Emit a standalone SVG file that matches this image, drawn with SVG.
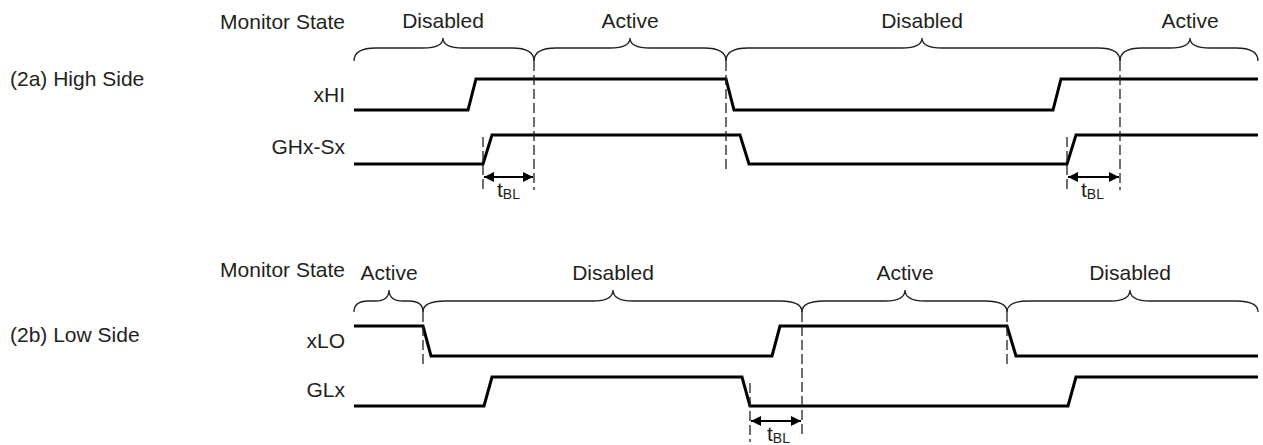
<svg xmlns="http://www.w3.org/2000/svg" width="1263" height="445" viewBox="0 0 1263 445">
<style>
text{font-family:"Liberation Sans",Arial,sans-serif;font-size:21px;fill:#231f20}
.end{text-anchor:end}
.mid{text-anchor:middle}
.sub{font-size:14px}
.wave{fill:none;stroke:#000;stroke-width:3;stroke-linejoin:miter}
.brace{fill:none;stroke:#231f20;stroke-width:1.3}
.dash{fill:none;stroke:#231f20;stroke-width:1.3;stroke-dasharray:10,4}
.dim{fill:none;stroke:#000;stroke-width:2.2}
</style>
<defs>
<marker id="ah" markerUnits="userSpaceOnUse" markerWidth="11" markerHeight="10" refX="10" refY="5" orient="auto-start-reverse">
<path d="M0,0 L10,5 L0,10 Z" fill="#000"/>
</marker>
</defs>
<rect width="1263" height="445" fill="#fff"/>

<g id="labels-high">
<text x="10" y="86">(2a) High Side</text>
<text class="end" x="345" y="29">Monitor State</text>
<text class="end" x="345" y="102">xHI</text>
<text class="end" x="345" y="154">GHx-Sx</text>
</g>
<g id="labels-low">
<text x="10" y="342">(2b) Low Side</text>
<text class="end" x="345" y="277">Monitor State</text>
<text class="end" x="345" y="348">xLO</text>
<text class="end" x="345" y="397">GLx</text>
</g>

<g id="states-high">
<path class="brace" d="M354,61 C354,53 360,48 376,48 L423,48 C435,48 443,45 443,38 C443,45 451,48 463,48 L512,48 C528,48 534,53 534,61"/>
<text class="mid" x="443" y="28">Disabled</text>
<path class="brace" d="M534,61 C534,53 540,48 556,48 L610,48 C622,48 630,45 630,38 C630,45 638,48 650,48 L704,48 C720,48 726,53 726,61"/>
<text class="mid" x="630" y="28">Active</text>
<path class="brace" d="M726,61 C726,53 732,48 748,48 L902,48 C914,48 922,45 922,38 C922,45 930,48 942,48 L1098,48 C1114,48 1120,53 1120,61"/>
<text class="mid" x="922" y="28">Disabled</text>
<path class="brace" d="M1120,61 C1120,53 1126,48 1142,48 L1170,48 C1182,48 1190,45 1190,38 C1190,45 1198,48 1210,48 L1236,48 C1252,48 1258,53 1258,61"/>
<text class="mid" x="1190" y="28">Active</text>
</g>

<g id="states-low">
<path class="brace" d="M354,312 C354,305 358,301 368,301 L375,301 C384,301 389,298 389,290 C389,298 394,301 403,301 L409,301 C419,301 423,305 423,312"/>
<text class="mid" x="389" y="280">Active</text>
<path class="brace" d="M423,312 C423,305 429,301 445,301 L593,301 C605,301 613,298 613,290 C613,298 621,301 633,301 L780,301 C796,301 802,305 802,312"/>
<text class="mid" x="613" y="280">Disabled</text>
<path class="brace" d="M802,312 C802,305 808,301 824,301 L885,301 C897,301 905,298 905,290 C905,298 913,301 925,301 L985,301 C1001,301 1007,305 1007,312"/>
<text class="mid" x="905" y="280">Active</text>
<path class="brace" d="M1007,312 C1007,305 1013,301 1029,301 L1110,301 C1122,301 1130,298 1130,290 C1130,298 1138,301 1150,301 L1236,301 C1252,301 1258,305 1258,312"/>
<text class="mid" x="1130" y="280">Disabled</text>
</g>

<g id="signal-xHI">
<path class="wave" d="M354,110 H468 L476,79 H726 L734,110 H1053 L1061,79 H1258"/>
</g>
<g id="signal-GHx-Sx">
<path class="wave" d="M354,164 H483 L492,135 H740 L749,164 H1067 L1076,135 H1258"/>
</g>
<g id="signal-xLO">
<path class="wave" d="M354,326 H423 L431,356 H772 L780,326 H1007 L1016,356 H1258"/>
</g>
<g id="signal-GLx">
<path class="wave" d="M354,406 H484 L492,377 H742 L750,406 H1068 L1076,377 H1258"/>
</g>

<g id="connectors">
<line class="dash" x1="534" y1="61" x2="534" y2="190"/>
<line class="dash" x1="726" y1="61" x2="726" y2="172"/>
<line class="dash" x1="1120" y1="61" x2="1120" y2="190"/>
<line class="dash" x1="483" y1="137" x2="483" y2="190"/>
<line class="dash" x1="1067" y1="137" x2="1067" y2="190"/>
<line class="dash" x1="423" y1="312" x2="423" y2="366"/>
<line class="dash" x1="1007" y1="312" x2="1007" y2="366"/>
<line class="dash" x1="802" y1="312" x2="802" y2="438"/>
<line class="dash" x1="750" y1="383" x2="750" y2="442"/>
<line class="dim" x1="484" y1="177" x2="533" y2="177" marker-start="url(#ah)" marker-end="url(#ah)"/>
<line class="dim" x1="1068" y1="177" x2="1119" y2="177" marker-start="url(#ah)" marker-end="url(#ah)"/>
<line class="dim" x1="751" y1="421" x2="801" y2="421" marker-start="url(#ah)" marker-end="url(#ah)"/>
</g>

<g id="tbl-labels">
<text x="497" y="197">t<tspan class="sub" dy="2">BL</tspan></text>
<text x="1081" y="197">t<tspan class="sub" dy="2">BL</tspan></text>
<text x="767" y="441">t<tspan class="sub" dy="2">BL</tspan></text>
</g>
</svg>
